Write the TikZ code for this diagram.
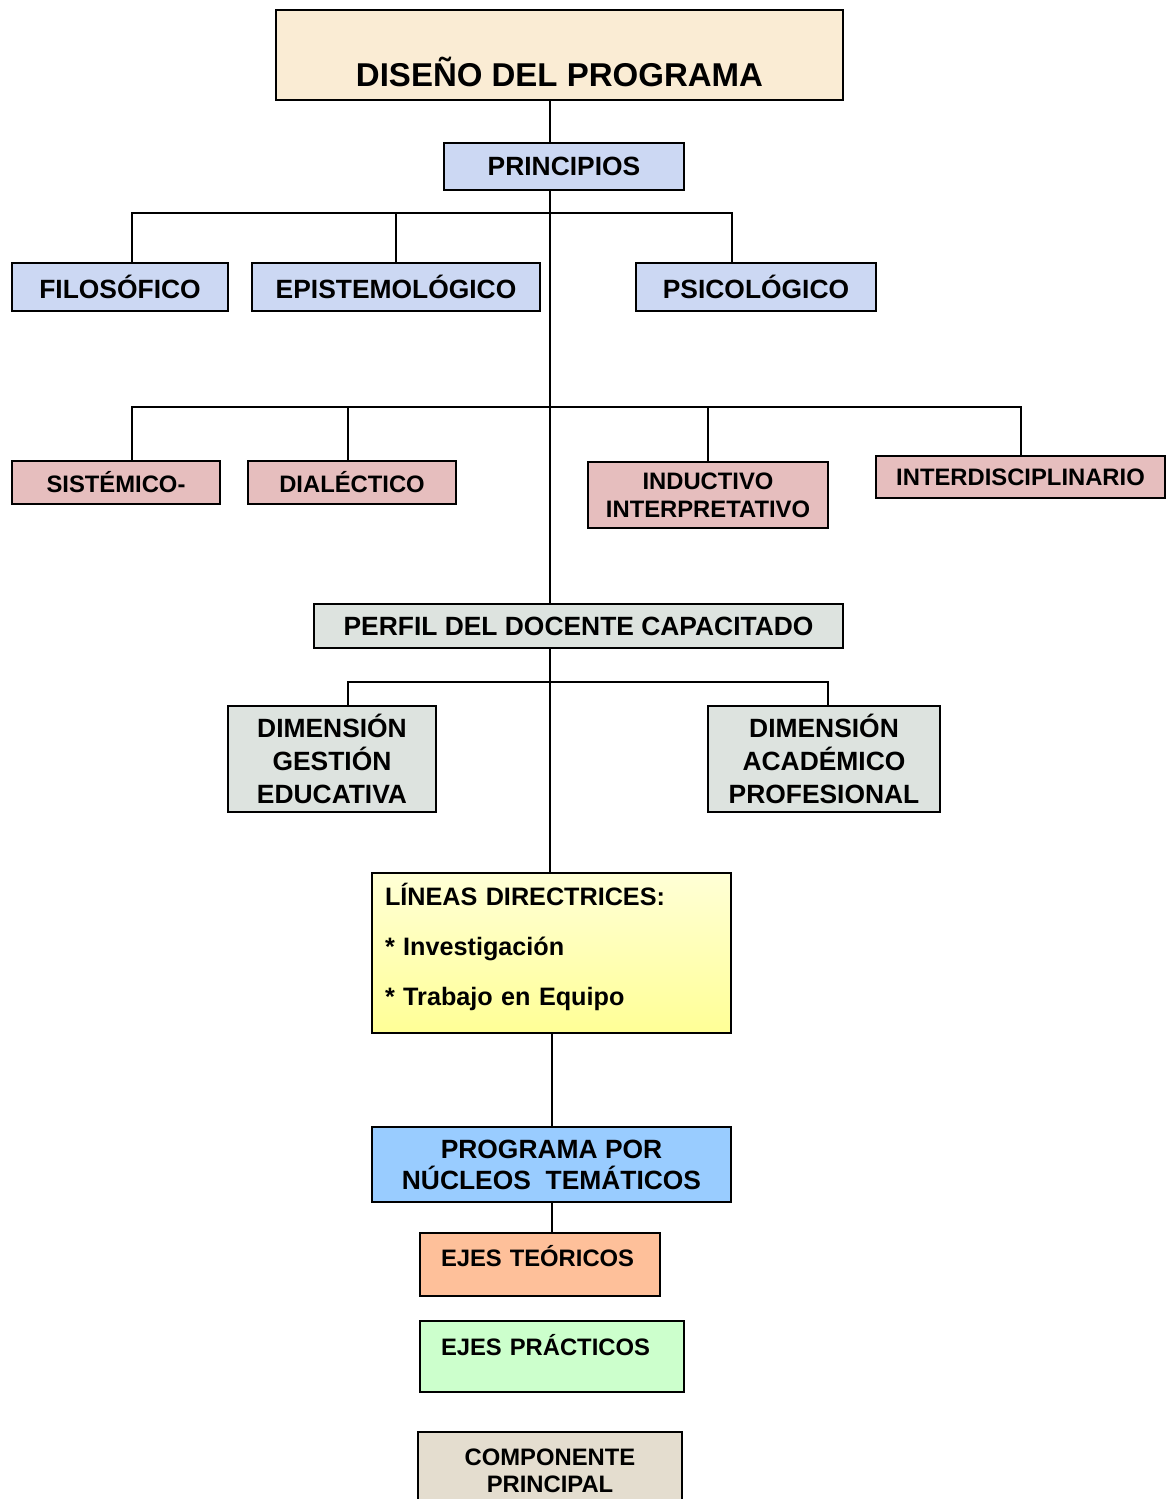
\documentclass[tikz,border=0pt]{standalone}
\usepackage{fontspec}
\setmainfont{Liberation Sans}

\definecolor{crema}{RGB}{250,236,212}
\definecolor{azulado}{RGB}{204,216,243}
\definecolor{rosado}{RGB}{230,190,190}
\definecolor{grisverde}{RGB}{221,227,223}
\definecolor{amarilloclaro}{RGB}{255,255,214}
\definecolor{amarillo}{RGB}{255,255,150}
\definecolor{celeste}{RGB}{153,204,255}
\definecolor{durazno}{RGB}{254,192,154}
\definecolor{verdeclaro}{RGB}{204,255,204}
\definecolor{arena}{RGB}{228,221,207}

\begin{document}
\begin{tikzpicture}[x=0.5pt, y=-0.5pt,
    caja/.style={draw, line width=1pt, inner sep=0pt, align=center},
    letragrande/.style={font=\bfseries\fontsize{16.5}{20}\selectfont},
    letra/.style={font=\bfseries\fontsize{13.2}{16.5}\selectfont},
    letrachica/.style={font=\bfseries\fontsize{11.9}{14}\selectfont},
    linea/.style={line width=1pt}]
    \useasboundingbox (0,0) rectangle (1166,1499);

    % title and principles
    \node[caja, letragrande, fill=crema, minimum width=283.5pt, text height=38pt, text depth=7pt] (titulo) at (559.5,55) {DISEÑO DEL PROGRAMA};
    \node[caja, letra, fill=azulado, minimum width=120pt, minimum height=23.5pt] (principios) at (564,166.5) {PRINCIPIOS};

    \node[caja, letra, fill=azulado, minimum width=108pt, minimum height=24pt] (filosofico) at (120,287) {FILOSÓFICO};
    \node[caja, letra, fill=azulado, minimum width=144pt, minimum height=24pt] (epistemologico) at (396,287) {EPISTEMOLÓGICO};
    \node[caja, letra, fill=azulado, minimum width=120pt, minimum height=24pt] (psicologico) at (756,287) {PSICOLÓGICO};

    % second row
    \node[caja, letrachica, fill=rosado, minimum width=104pt, minimum height=21.5pt] (sistemico) at (116,482.5) {SISTÉMICO-};
    \node[caja, letrachica, fill=rosado, minimum width=104pt, minimum height=21.5pt] (dialectico) at (352,482.5) {DIALÉCTICO};
    \node[caja, letrachica, fill=rosado, minimum width=120pt, minimum height=33pt] (inductivo) at (708,495) {INDUCTIVO\\INTERPRETATIVO};
    \node[caja, letrachica, fill=rosado, minimum width=144.5pt, minimum height=21pt] (interdisciplinario) at (1020.5,477) {INTERDISCIPLINARIO};

    % profile
    \node[caja, letra, fill=grisverde, minimum width=264.5pt, minimum height=22pt] (perfil) at (578.5,626) {PERFIL DEL DOCENTE CAPACITADO};
    \node[caja, letra, fill=grisverde, minimum width=104pt, minimum height=53pt] (gestion) at (332,759) {DIMENSIÓN\\GESTIÓN\\EDUCATIVA};
    \node[caja, letra, fill=grisverde, minimum width=116pt, minimum height=53pt] (academico) at (824,759) {DIMENSIÓN\\ACADÉMICO\\PROFESIONAL};

    % lower column
    \node[caja, font=\bfseries\fontsize{12.6}{25}\selectfont, align=left, text width=166.5pt, top color=amarilloclaro, bottom color=amarillo, minimum width=179.5pt, minimum height=80pt] (lineas) at (551.5,953) {LÍNEAS DIRECTRICES:\\{*} Investigación\\{*} Trabajo en Equipo\rule[-9pt]{0pt}{9pt}};
    \node[caja, font=\bfseries\fontsize{13.2}{15.5}\selectfont, fill=celeste, minimum width=179.5pt, minimum height=37.5pt] (programa) at (551.5,1164.5) {PROGRAMA POR\\NÚCLEOS~~TEMÁTICOS};
    \node[caja, letrachica, align=left, fill=durazno, inner xsep=10.5pt, text width=99pt, text height=16.75pt, text depth=14.75pt] (teoricos) at (540,1264.5) {EJES TEÓRICOS};
    \node[caja, letrachica, align=left, fill=verdeclaro, inner xsep=10.5pt, text width=111pt, text height=17pt, text depth=18.5pt] (practicos) at (552,1356.5) {EJES PRÁCTICOS};
    \node[caja, font=\bfseries\fontsize{11.9}{13.5}\selectfont, fill=arena, minimum width=132pt, minimum height=38.5pt] (componente) at (550,1470.5) {COMPONENTE\\PRINCIPAL};

    % connectors
    \coordinate (eje) at (550,0);
    \coordinate (rama1) at (550,213);
    \coordinate (rama2) at (550,407);
    \coordinate (rama3) at (550,682);

    \draw[linea] (titulo.south -| eje) -- (principios.north -| eje);
    \draw[linea] (principios.south -| eje) -- (perfil.north -| eje);
    \draw[linea] ([xshift=6pt]filosofico.north) |- (rama1) -| ([xshift=-12pt]psicologico.north);
    \draw[linea] (epistemologico.north) -- (epistemologico.north |- rama1);
    \draw[linea] ([xshift=8pt]sistemico.north) |- (rama2) -| (interdisciplinario.north);
    \draw[linea] ([xshift=-2pt]dialectico.north) -- ([xshift=-2pt]dialectico.north |- rama2);
    \draw[linea] (inductivo.north) -- (inductivo.north |- rama2);
    \draw[linea] (perfil.south -| eje) -- (lineas.north -| eje);
    \draw[linea] ([xshift=8pt]gestion.north) |- (rama3) -| ([xshift=2pt]academico.north);
    \draw[linea] (lineas.south) -- (programa.north);
    \draw[linea] (programa.south) -- (programa.south |- teoricos.north);
  \end{tikzpicture}
\end{document}
